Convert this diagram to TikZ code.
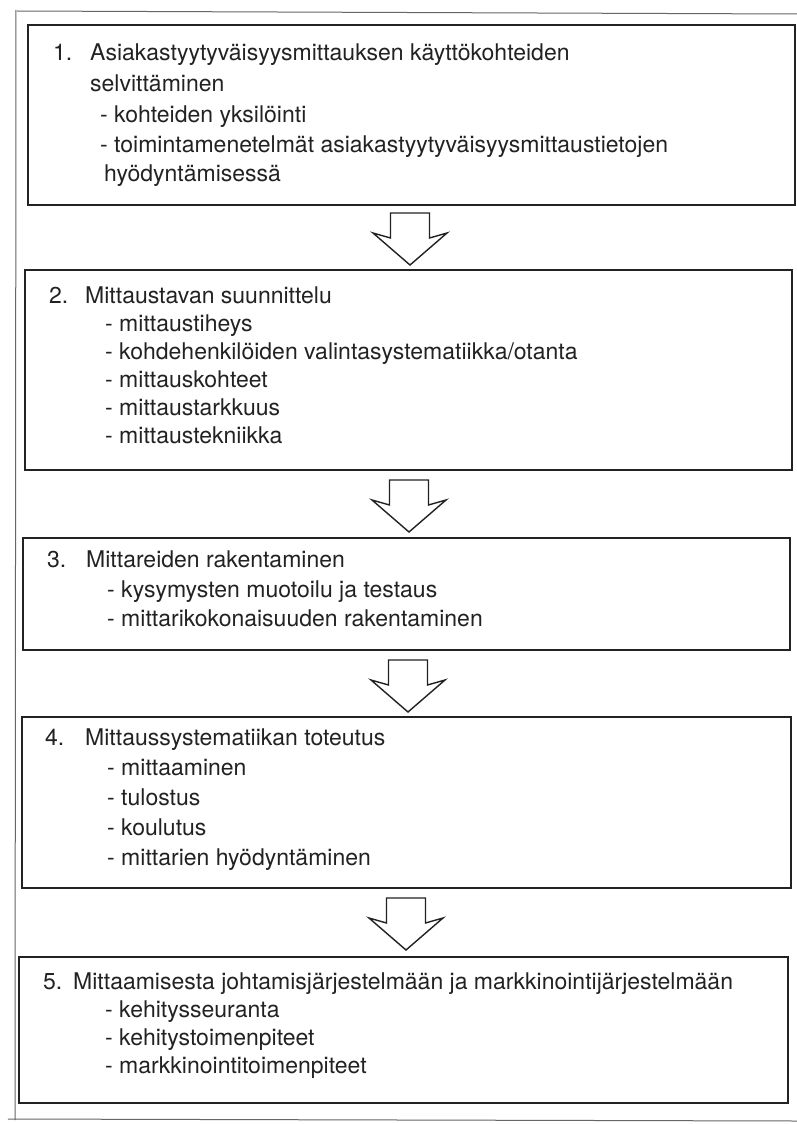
\documentclass[tikz,border=0pt]{standalone}
\usepackage{fontspec}
\setmainfont{TeX Gyre Heros}
\usetikzlibrary{fit}
\definecolor{ink}{HTML}{222222}
\definecolor{framegray}{HTML}{666666}
\tikzset{
  stepbox/.style={draw=ink, line width=1.4pt, inner sep=0pt, fill=none},
  txt/.style={anchor=base west, inner sep=0pt, font=\fontsize{23}{28}\selectfont, text=ink},
  frameline/.style={draw=framegray, line width=1pt},
  blockarrow/.pic={
    \draw[ink, line width=1.4pt, line join=miter]
      (-19.5,0) -- (19.5,0) -- (19.5,25) -- (37,20) -- (0,52) -- (-37,20) -- (-19.5,25) -- cycle;
  }
}
\begin{document}
\begin{tikzpicture}[x=1pt,y=-1pt]
\useasboundingbox[fill=white] (0,0) rectangle (797,1124);
% outer frame lines
\coordinate (ftl) at (17,11);
\coordinate (ftr) at (797,14);
\coordinate (fbl) at (8,1119);
\coordinate (fbr) at (797,1121);
\coordinate (flt) at (16,10);
\coordinate (flb) at (15,1120);
\draw[frameline] (ftl) -- (ftr);
\draw[frameline] (flt) -- (flb);
\draw[frameline] (fbl) -- (fbr);

% box corners
\coordinate (b1a) at (28,25);  \coordinate (b1b) at (795,205);
\coordinate (b2a) at (25,270); \coordinate (b2b) at (792,470);
\coordinate (b3a) at (23,538); \coordinate (b3b) at (790,650);
\coordinate (b4a) at (22,717); \coordinate (b4b) at (791,888);
\coordinate (b5a) at (19,957); \coordinate (b5b) at (788,1103);
\node[stepbox, fit=(b1a)(b1b)] (b1) {};
\node[stepbox, fit=(b2a)(b2b)] (b2) {};
\node[stepbox, fit=(b3a)(b3b)] (b3) {};
\node[stepbox, fit=(b4a)(b4b)] (b4) {};
\node[stepbox, fit=(b5a)(b5b)] (b5) {};

% arrows
\pic at (410,213) {blockarrow};
\pic at (409,480) {blockarrow};
\pic at (408,660) {blockarrow};
\pic at (406,898) {blockarrow};

% box 1 text
\node[txt] (t1n) at (53,60) {1.};
\node[txt] (t1a) at (90,60) {Asiakastyytyväisyysmittauksen käyttökohteiden};
\node[txt] (t1b) at (90,92) {selvittäminen};
\node[txt] (t1c) at (100,122) {- kohteiden yksilöinti};
\node[txt] (t1d) at (100,152) {- toimintamenetelmät asiakastyytyväisyysmittaustietojen};
\node[txt] (t1e) at (104,181) {hyödyntämisessä};

% box 2 text
\node[txt] (t2n) at (49,303) {2.};
\node[txt] (t2a) at (85,303) {Mittaustavan suunnittelu};
\node[txt] (t2b) at (105,331) {- mittaustiheys};
\node[txt] (t2c) at (105,359) {- kohdehenkilöiden valintasystematiikka/otanta};
\node[txt] (t2d) at (105,387) {- mittauskohteet};
\node[txt] (t2e) at (105,415) {- mittaustarkkuus};
\node[txt] (t2f) at (105,443) {- mittaustekniikka};

% box 3 text
\node[txt] (t3n) at (47,567) {3.};
\node[txt] (t3a) at (86,567) {Mittareiden rakentaminen};
\node[txt] (t3b) at (107,597) {- kysymysten muotoilu ja testaus};
\node[txt] (t3c) at (107,626) {- mittarikokonaisuuden rakentaminen};

% box 4 text
\node[txt] (t4n) at (45,745) {4.};
\node[txt] (t4a) at (85,745) {Mittaussystematiikan toteutus};
\node[txt] (t4b) at (107,775) {- mittaaminen};
\node[txt] (t4c) at (107,805) {- tulostus};
\node[txt] (t4d) at (107,835) {- koulutus};
\node[txt] (t4e) at (107,865) {- mittarien hyödyntäminen};

% box 5 text
\node[txt] (t5n) at (43,989) {5.};
\node[txt] (t5a) at (73,989) {Mittaamisesta johtamisjärjestelmään ja markkinointijärjestelmään};
\node[txt] (t5b) at (105,1017) {- kehitysseuranta};
\node[txt] (t5c) at (105,1045) {- kehitystoimenpiteet};
\node[txt] (t5d) at (105,1073) {- markkinointitoimenpiteet};
\end{tikzpicture}
\end{document}
